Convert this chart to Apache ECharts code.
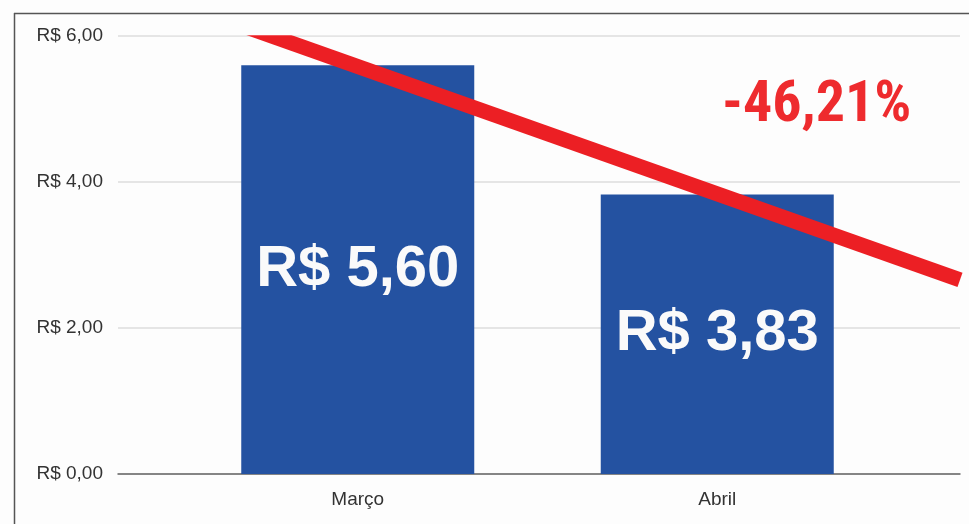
<!DOCTYPE html>
<html>
<head>
<meta charset="utf-8">
<script src="https://cdn.jsdelivr.net/npm/echarts@6/dist/echarts.min.js"></script>
<style>
  html, body { margin: 0; padding: 0; background: #fdfdfd; }
  #chart { width: 969px; height: 524px; }
</style>
</head>
<body>
<div id="chart"></div>
<script>
// dados
const meses = ['Março', 'Abril']
const precos = [5.60, 3.83]
const yTicks = ['R$ 0,00', 'R$ 2,00', 'R$ 4,00', 'R$ 6,00']
const variacao = '-46,21%'
// linha de tendência (anotação), em unidades do eixo: x de 0 a 100, y em R$
const tendenciaX = [10.9, 100]
const tendenciaY = [6.3, 2.66]

const fmtReal = v => 'R$ ' + v.toFixed(2).replace('.', ',')

const chart = echarts.init(document.getElementById('chart'))
chart.setOption({
  backgroundColor: '#fdfdfd',
  animation: false,
  grid: [
    { left: 118, right: 9, top: 36, bottom: 50 },
    { left: 178, right: 72, top: 36, bottom: 50 }
  ],
  xAxis: [
    {
      gridIndex: 0,
      type: 'value',
      min: 0,
      max: 100,
      axisLine: { show: true, lineStyle: { color: '#666', width: 1.5 } },
      axisTick: { show: false },
      axisLabel: { show: false },
      splitLine: { show: false }
    },
    {
      gridIndex: 1,
      type: 'category',
      data: meses,
      axisLine: { show: false },
      axisTick: { show: false },
      axisLabel: {
        color: '#333',
        fontSize: 19,
        fontFamily: 'Liberation Sans, Arial, sans-serif',
        margin: 16
      }
    }
  ],
  yAxis: [
    {
      gridIndex: 0,
      type: 'value',
      min: 0,
      max: 6,
      interval: 2,
      axisLine: { show: false },
      axisTick: { show: false },
      axisLabel: {
        color: '#333',
        fontSize: 19,
        fontFamily: 'Liberation Sans, Arial, sans-serif',
        margin: 15,
        formatter: v => yTicks[Math.round(v / 2)]
      },
      splitLine: { lineStyle: { color: '#dcdcdc', width: 1.5 } }
    },
    {
      gridIndex: 1,
      type: 'value',
      min: 0,
      max: 6,
      show: false,
      splitLine: { show: false }
    }
  ],
  series: [
    {
      type: 'bar',
      xAxisIndex: 1,
      yAxisIndex: 1,
      barWidth: 233,
      data: precos,
      itemStyle: { color: '#2452a1' },
      label: {
        show: true,
        position: 'inside',
        color: '#fafafa',
        fontSize: 58,
        fontWeight: 'bold',
        fontFamily: 'Liberation Sans, Arial, sans-serif',
        formatter: p => fmtReal(p.value)
      },
      z: 2
    },
    {
      type: 'line',
      xAxisIndex: 0,
      yAxisIndex: 0,
      data: tendenciaX.map((x, i) => [x, tendenciaY[i]]),
      showSymbol: false,
      lineStyle: { color: '#ec1f24', width: 15, cap: 'butt' },
      z: 5
    }
  ],
  graphic: [
    {
      // corta a linha vermelha no topo da área do gráfico
      type: 'rect',
      z: 8,
      shape: { x: 160, y: 15, width: 200, height: 20.2 },
      style: { fill: '#fdfdfd' }
    },
    {
      type: 'text',
      left: 722,
      top: 77,
      z: 10,
      style: {
        text: variacao,
        fill: '#ee2b2e',
        font: 'bold 58px "Liberation Sans Narrow", "Roboto Condensed", "Liberation Sans", sans-serif'
      }
    },
    {
      type: 'line',
      z: 10,
      shape: { x1: 14.5, y1: 13, x2: 14.5, y2: 524 },
      style: { stroke: '#555', lineWidth: 1.5 }
    },
    {
      type: 'line',
      z: 10,
      shape: { x1: 14, y1: 13.5, x2: 969, y2: 13.5 },
      style: { stroke: '#555', lineWidth: 1.5 }
    }
  ]
})
</script>
</body>
</html>
